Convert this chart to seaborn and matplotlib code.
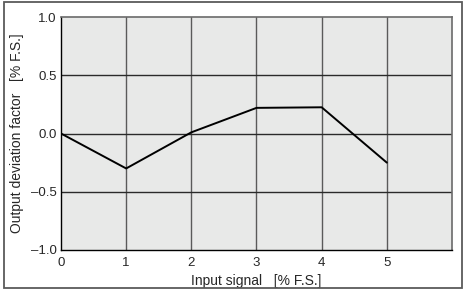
import matplotlib
matplotlib.use('Agg')
import matplotlib.pyplot as plt
import seaborn as sns
import pandas as pd

# values
input_signal = [0, 1, 2, 3, 4, 5]
deviation = [0.0, -0.30, 0.01, 0.22, 0.225, -0.25]
x_ticks = [0, 1, 2, 3, 4, 5, 6]
x_tick_labels = ['0', '1', '2', '3', '4', '5', '']
y_ticks = [-1.0, -0.5, 0.0, 0.5, 1.0]
y_tick_labels = ['\u20131.0', '\u20130.5', '0.0', '0.5', '1.0']

sns.set_style('white')
plt.rcParams['font.family'] = ['Liberation Sans', 'DejaVu Sans']

data = pd.DataFrame({'x': input_signal, 'y': deviation})

fig = plt.figure(figsize=(4.64, 2.91), dpi=100)
ax = fig.add_axes([61/464, 41/291, 391/464, 233/291])
ax.set_facecolor('#e8e9e8')

sns.lineplot(data=data, x='x', y='y', color='black', linewidth=1.4, ax=ax)

ax.set_xlim(0, 6)
ax.set_ylim(-1.0, 1.0)
ax.set_xticks(x_ticks)
ax.set_xticklabels(x_tick_labels, fontsize=9.5)
ax.set_yticks(y_ticks)
ax.set_yticklabels(y_tick_labels, fontsize=9.5)
ax.tick_params(axis='y', length=0, pad=3)
ax.tick_params(axis='x', length=0, pad=5)

# grid
for xv in x_ticks[1:-1]:
    ax.axvline(xv, color='#5a5a5a', linewidth=1.0, zorder=0.5)
for yv in y_ticks[1:-1]:
    ax.axhline(yv, color='#2a2a2a', linewidth=1.0, zorder=0.5)

for side in ['left', 'bottom']:
    ax.spines[side].set_color('black')
    ax.spines[side].set_linewidth(1.0)
for side in ['top', 'right']:
    ax.spines[side].set_color('#6a6a6a')
    ax.spines[side].set_linewidth(1.2)

ax.set_xlabel('Input signal   [% F.S.]', fontsize=10, labelpad=4)
ax.set_ylabel('Output deviation factor   [% F.S.]', fontsize=10, labelpad=5)

# outer frame round the figure
frame = plt.Rectangle((4/464, 3/291), 458/464, 286/291, transform=fig.transFigure,
                      fill=False, edgecolor='#5a5a5a', linewidth=1.3)
fig.patches.append(frame)

fig.savefig('out.png', dpi=100)
